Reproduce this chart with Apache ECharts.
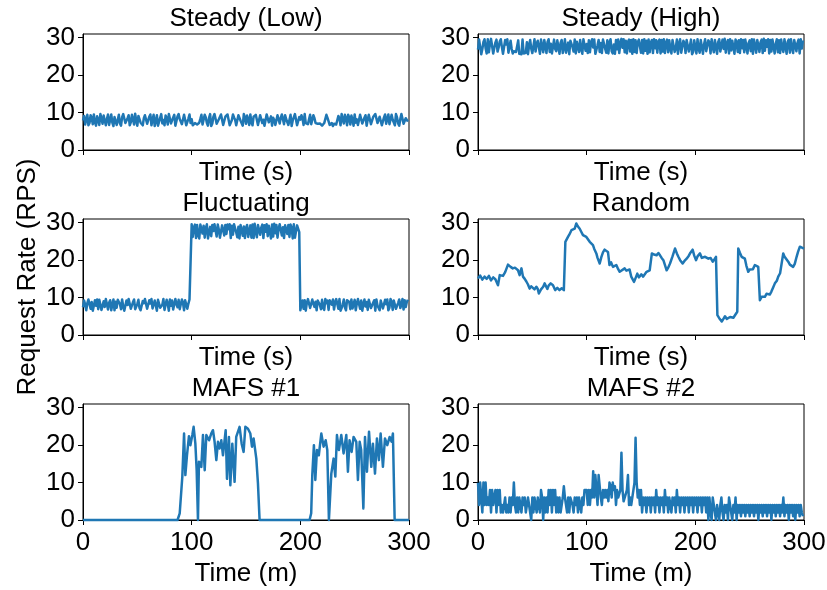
<!DOCTYPE html>
<html><head><meta charset="utf-8">
<script src="https://cdn.jsdelivr.net/npm/echarts@6/dist/echarts.min.js"></script>
<style>html,body{margin:0;padding:0;background:#fff}#c{width:827px;height:590px}</style>
</head><body><div id="c"></div>
<script>
// ---------- data ----------
const panelTitles = ['Steady (Low)', 'Steady (High)', 'Fluctuating', 'Random', 'MAFS #1', 'MAFS #2'];
const xAxisNames = ['Time (s)', 'Time (s)', 'Time (s)', 'Time (s)', 'Time (m)', 'Time (m)'];
const yAxisName = 'Request Rate (RPS)';
const xTickValues = [0, 100, 200, 300];
const yTickValues = [0, 10, 20, 30];
const sampleStep = 1; // time between samples of the evenly sampled traces

const steadyLow = [
7.9,9.1,6.8,8.2,9.4,6.6,7.2,9.3,8.6,6.9,9.5,7.4,6.5,9.0,8.1,6.7,9.6,8.4,7.0,9.2,9.2,6.6,8.3,9.5,6.7,8.0,9.5,7.3,6.4,8.8,
9.1,6.7,8.0,9.4,7.1,6.5,8.8,9.6,9.6,7.2,6.9,8.5,9.3,6.6,7.4,9.4,8.2,6.8,9.7,7.9,6.5,9.1,9.4,7.3,7.0,6.6,8.5,9.3,9.6,7.0,
7.2,8.9,9.5,6.6,8.1,9.4,6.4,7.8,9.3,6.5,6.9,8.6,9.6,7.1,8.0,6.6,9.2,8.5,6.8,9.6,9.5,7.1,7.3,8.7,9.4,6.5,6.5,9.0,9.6,8.3,
8.4,6.9,7.0,9.4,9.1,6.6,6.9,8.4,9.5,7.2,8.2,6.6,7.1,7.2,7.0,6.8,6.9,7.3,8.3,9.4,6.8,7.0,9.4,8.7,7.2,6.5,8.6,9.6,6.4,7.1,
8.9,9.6,9.5,7.0,6.9,8.2,8.0,9.5,9.6,6.7,7.1,8.9,8.4,9.5,9.3,6.6,6.8,8.0,9.5,8.7,8.1,6.6,6.9,9.3,9.4,7.8,8.3,6.5,9.6,8.8,
7.0,9.2,8.2,6.7,9.5,7.4,6.6,8.9,8.4,9.4,9.2,6.7,7.0,9.3,9.6,7.2,8.1,6.5,6.8,9.5,9.4,7.4,7.2,9.0,6.5,8.6,8.0,6.7,6.9,9.3,
9.5,7.1,8.6,9.5,9.4,6.9,9.3,8.2,8.0,6.7,6.8,9.4,6.4,7.9,8.3,9.6,9.5,6.6,7.0,8.8,8.1,9.3,8.4,6.7,9.6,7.2,7.1,6.9,8.2,9.4,
6.9,7.2,9.3,8.5,7.2,6.9,7.0,7.1,7.1,6.8,6.5,7.0,7.2,6.9,9.4,8.6,8.3,6.7,6.9,7.2,6.4,7.0,7.0,6.8,7.3,9.1,8.4,6.6,9.6,8.2,
7.1,9.4,8.5,6.6,9.4,8.7,6.8,9.2,8.0,6.5,9.5,7.3,8.2,6.7,6.5,9.4,9.6,7.1,7.0,8.6,9.3,6.5,8.1,9.4,9.5,6.9,6.9,8.8,8.3,9.6,
9.6,7.2,7.0,8.9,9.4,6.6,6.6,8.7,9.5,7.0,8.2,9.5,6.9,7.4,9.4,8.1,8.0,6.6,9.6,8.7,7.1,6.5,8.3,9.6,9.5,7.0,6.9,8.5,8.4,7.6];

const steadyHigh = [
26.8,29.5,29.2,25.6,27.0,28.9,29.6,27.2,25.8,29.6,26.1,28.4,29.7,29.3,25.8,25.9,28.7,29.5,26.3,27.4,29.0,29.6,27.5,25.7,26.0,29.4,28.2,29.6,26.0,25.7,
29.2,27.0,25.8,26.4,25.9,26.2,25.8,29.3,25.7,26.2,25.6,29.5,25.8,26.1,26.0,28.8,25.6,27.9,29.4,27.1,25.9,25.7,29.6,26.3,28.5,29.2,29.7,25.7,29.5,27.8,
26.1,29.4,29.6,25.9,28.9,29.6,26.2,28.4,25.8,25.7,29.5,27.0,26.4,29.3,29.5,25.7,28.6,29.4,25.9,27.3,29.6,26.0,25.8,28.7,25.6,29.2,29.7,27.5,26.3,29.5,
25.8,28.9,29.4,26.2,29.4,27.0,25.7,29.6,29.3,26.5,28.3,25.9,29.3,26.1,28.8,29.6,27.4,29.5,25.7,26.0,28.0,29.4,26.2,28.6,25.9,29.5,29.7,27.1,26.0,29.3,
25.8,28.7,29.6,26.4,25.8,28.2,25.7,29.4,26.9,29.5,25.9,28.5,29.7,27.3,29.6,26.1,29.2,25.8,28.9,29.5,26.3,29.4,25.7,29.6,26.2,29.3,25.9,28.8,29.5,29.7,
26.0,29.4,25.8,29.6,26.5,29.2,25.7,29.5,26.1,28.7,29.4,25.9,29.6,27.2,29.3,26.0,28.9,29.5,25.8,29.4,26.3,29.6,25.9,28.6,29.5,26.1,29.3,27.0,25.8,29.4,
29.6,26.2,27.3,29.5,25.7,28.4,29.6,26.0,25.8,29.2,28.6,25.9,29.4,29.7,26.3,27.8,29.5,25.6,26.2,29.3,28.9,25.8,29.6,27.1,26.0,29.4,29.5,25.7,28.2,29.6,
26.4,25.9,29.3,28.7,25.8,29.6,27.5,26.1,29.4,29.2,25.7,28.8,29.6,26.3,25.9,29.5,27.0,29.7,26.0,28.5,29.4,25.8,29.6,26.6,29.2,27.4,25.7,29.5,28.9,26.2,
29.3,25.9,29.6,27.2,29.4,26.1,29.5,29.7,25.8,28.6,29.3,26.4,29.6,25.7,29.5,27.9,26.0,29.4,29.6,26.2,28.8,29.5,25.9,29.7,26.5,29.3,27.6,29.6,25.8,29.4,
26.3,29.5,29.7,25.8,28.4,29.6,26.1,29.3,25.9,29.5,27.4,26.2,29.6,29.4,25.7,28.9,29.5,26.0,29.6,27.3,25.9,29.4,29.7,26.4,28.6,29.5,25.8,29.6,27.1,29.3];

const fluctuating = [
// low phase
7.4,9.2,8.1,6.6,8.5,9.5,9.4,7.0,8.8,6.5,6.8,9.3,7.8,9.5,6.9,9.4,8.1,6.7,7.2,9.0,7.5,9.6,9.2,6.8,8.6,9.3,6.6,7.1,9.5,6.6,
8.9,7.3,9.4,9.5,8.2,6.9,9.5,7.6,6.5,6.7,9.2,8.0,9.6,9.4,7.0,6.7,8.8,9.5,6.9,7.2,8.3,9.4,7.2,6.6,6.5,9.1,8.5,9.6,9.3,7.0,
6.8,9.3,8.4,9.6,7.1,6.6,9.2,8.7,6.5,9.4,9.5,7.3,6.9,8.1,9.6,6.7,7.0,9.4,8.3,6.5,9.5,7.8,9.2,6.8,6.6,9.6,8.2,7.4,9.4,6.9,
7.1,9.5,8.6,6.6,9.3,9.6,7.0,8.4,9.5,9.8,
// high phase
29.6,26.2,28.8,29.5,25.9,29.4,26.7,25.8,29.5,29.7,27.1,29.2,26.0,28.5,29.6,25.8,26.3,28.9,26.4,29.4,27.8,29.6,29.3,26.3,29.5,28.2,26.0,25.8,29.3,29.6,
26.6,29.4,27.0,29.5,28.3,29.6,25.9,29.2,26.8,29.6,29.5,27.4,26.1,28.9,25.8,29.4,29.7,26.5,29.0,25.9,28.6,29.4,26.2,25.8,29.3,26.0,29.5,25.9,29.7,27.5,
26.1,29.4,29.6,26.8,28.7,29.5,25.9,29.3,27.6,29.6,26.4,29.2,28.9,25.8,29.5,26.3,29.7,27.2,29.4,26.0,28.4,29.6,29.5,26.6,28.8,25.9,29.3,29.6,27.0,29.4,
26.2,29.5,28.6,25.8,29.6,26.0,25.9,29.3,29.7,27.5,
// low phase
6.6,8.1,9.2,7.0,9.3,6.5,8.6,9.6,9.4,7.2,6.8,9.5,8.3,7.5,8.9,6.6,9.2,9.5,8.0,6.9,9.4,7.3,6.7,9.6,8.5,9.2,6.7,9.3,9.0,8.1,
9.5,6.8,8.7,9.6,9.4,7.0,9.6,6.5,7.2,8.2,9.5,7.4,6.6,9.3,9.1,8.8,6.9,9.5,7.1,6.7,9.4,6.6,8.4,9.6,9.5,7.0,9.2,6.5,8.3,9.5,
7.6,8.8,6.7,9.4,9.6,7.2,6.9,8.6,9.3,6.5,9.5,7.9,8.4,6.6,9.2,9.6,7.1,6.8,9.4,8.2,9.5,6.6,7.3,9.6,8.9,6.7,9.2,9.4,7.0,6.5,
8.6,9.5,7.2,8.0,9.6,6.8,9.3,7.5,8.8,9.4];

// [time, rate] pairs for the irregularly read traces
const randomTrace = [
[0,15.1],[2,15.9],[4,14.8],[6,15.6],[8,15.0],[10,15.8],[12,14.6],[14,15.4],[16,14.9],[18.4,13.3],[20,16.0],[23,15.8],[25,16.8],[27.6,18.8],[30,18.2],
[32,17.8],[34,18.0],[36.8,17.3],[38.3,16.0],[40,17.8],[41.4,15.6],[43,15.0],[44.5,14.3],[46,13.5],[47.5,12.4],[49,13.0],[50.6,12.9],[52,12.2],[53.7,12.9],
[55,12.3],[56,11.1],[58,12.2],[60,12.9],[61.3,13.8],[63.8,12.3],[65,13.2],[66.9,13.8],[69,13.3],[71,12.0],[73,12.6],[75,12.0],[77,12.5],[79,12.0],
[80.4,24.9],[82.8,26.2],[84,26.8],[86,28.0],[89,28.4],[90.5,29.8],[92,29.0],[93.6,28.4],[95,27.6],[96.6,26.7],[98,27.2],[99.7,26.2],[101,25.8],[102.8,24.9],
[104,25.2],[105.8,24.0],[107,23.0],[108.9,21.8],[110,20.6],[112,19.1],[113.5,20.8],[115,22.1],[116.5,22.8],[118,22.9],[119.6,22.2],[121,18.7],[122.5,19.4],
[124.2,18.2],[126,18.5],[127.3,18.7],[129,17.6],[130.4,16.9],[132,17.4],[135,17.8],[136.5,17.2],[138,16.9],[139.5,17.5],[141,15.6],[143.6,14.2],[145,15.2],
[146.6,16.4],[148,15.4],[150.3,16.2],[152,15.6],[155.1,16.9],[158,17.3],[159,17.6],[160,21.8],[162,21.5],[164.4,21.3],[166,21.9],[167.5,21.3],[169,20.6],
[170.6,20.0],[173.6,17.3],[175,18.0],[176.7,19.1],[179,21.0],[181.3,23.1],[183,21.8],[184.4,20.9],[186,20.0],[188.3,19.1],[190,19.8],[192,20.4],[194,21.2],
[195.5,22.0],[197.5,22.8],[199,21.2],[200.6,20.0],[202,21.0],[204.3,21.8],[206,20.6],[207.3,20.4],[209,20.9],[212,20.4],[214,20.6],[216,19.6],[217.5,20.2],
[219,20.9],[220.3,5.3],[222,4.5],[224.3,3.6],[226,4.4],[227.3,5.0],[229,4.3],[230.4,4.1],[232,4.8],[233.5,5.3],[235,4.6],[236.5,4.1],[238.6,6.2],[239.5,23.1],
[241,22.0],[242.6,20.9],[244,21.2],[245.6,20.4],[247,18.5],[248.7,16.9],[250,17.5],[251.8,17.8],[253,17.6],[254.8,18.7],[256.5,18.7],[257.9,18.2],[259.4,9.3],
[261,10.2],[262.5,10.7],[264,10.2],[265.5,11.0],[267,11.1],[268.5,10.8],[270,11.6],[271.5,12.6],[273.2,13.8],[275,14.5],[276.3,15.6],[278,16.5],[280.9,21.8],
[282,21.0],[283.5,20.4],[285.5,19.6],[287,18.8],[288.5,18.4],[290,18.2],[291.5,19.0],[293.2,20.9],[294.5,22.2],[296.2,23.6],[298,23.4],[300,23.1]];

const mafs1Trace = [
[0,0],[87,0],[89,1.8],[91.4,11.6],[93,23.1],[94.2,12],[95.7,17.3],[97.5,22.4],[98.8,20],[100.6,22.7],[101.8,24.9],[103.4,20.4],[104.6,13.3],[105.8,0],
[106.7,15.6],[108.9,14.2],[110.4,22.7],[112,13.3],[113.5,22.7],[116,21.3],[118,23.1],[119.6,24],[121.1,20.9],[122.7,16],[124.2,20.9],[125.7,19.1],[127.3,21.3],
[128.8,17.3],[131.3,24],[132.5,11],[134.3,22.2],[135.6,9.3],[137.4,20.4],[139.5,10.2],[141,22.2],[142.6,22.2],[144.1,24.9],[146,20.4],[147.8,18.2],[149.4,24.9],
[151.8,24.4],[154,23.1],[155.5,19.6],[157,21.8],[159.5,16.4],[161,9.8],[162.5,0],[208.5,0],[210,1.8],[211,12],[212.5,20],[213.8,10.7],[215.3,18.7],[217,17.3],
[219.3,23.1],[221.4,19.6],[223.3,21.3],[224.8,18.7],[226.3,0],[228.5,12.4],[230.6,16.4],[232.2,11.6],[233.7,22.7],[235.5,18.7],[237.7,22.7],[239.8,17.8],
[242.3,22.7],[243.8,12.9],[245.3,21.3],[247.2,18.2],[249,22.2],[251.5,20.9],[253,10.7],[254.6,20.9],[256,18.7],[258,3.1],[259.5,22.2],[261.3,12.9],[263.2,23.6],
[265.3,14.2],[266.8,20.4],[268.7,12.4],[270.5,21.8],[272.3,16],[273.9,23.1],[276,14.2],[277.9,21.8],[280,20],[282.2,22.2],[284,20.9],[285.2,23.1],[286.8,0],[300,0]];

const mafs2 = [
10,4,10,6,2,10,4,10,4,6, 4,8,2,8,4,6,8,2,8,4, 8,2,4,2,4,6,2,4,2,6,
2,6,4,10,4,2,6,2,6,4, 2,6,4,6,2,4,6,6,2,0, 6,2,6,4,2,6,6,2,8,6,
0,6,2,6,2,8,4,8,2,8, 4,8,2,6,2,6,2,4,6,9, 6,4,2,6,2,6,6,4,2,6,
4,6,2,6,4,2,6,4,8,8, 8,4,8,4,8,6,13,6,12,12, 4,12,12,6,4,8,6,8,6,8,
5,10,9,6,10,8,9,4,8,6, 6,8,18,8,5,6,6,8,12,4, 6,4,6,8,10,22,10,6,8,4,
8,2,6,4,6,2,6,4,6,2, 6,4,6,2,8,4,6,2,6,4, 6,2,8,4,6,2,6,4,2,6,
4,6,2,8,4,6,2,6,4,6, 2,6,4,6,2,6,4,6,2,6, 4,6,2,6,4,6,2,6,4,6,
2,6,0,6,2,0,6,4,2,0, 4,2,0,4,6,2,0,4,2,4, 0,6,4,2,0,4,2,6,0,4,
2,4,1,4,2,4,1,4,2,4, 1,4,2,4,1,4,2,4,0,4, 2,4,1,4,2,4,1,4,2,4,
0,4,2,4,1,4,2,4,1,4, 2,6,1,4,2,4,0,4,2,4, 1,4,0,4,2,4,1,4,2,1];

// ---------- layout / style ----------
const FONT = '"Liberation Sans", Arial, Helvetica, sans-serif';
const FS = 26;
const BLUE = '#1f77b4';
const colLeft = [83, 478];
const rowTop = [34, 219, 404];
const PW = 326, PH = 116;

const even = arr => arr.map((v, k) => [k * sampleStep, v]);
const panelData = [even(steadyLow), even(steadyHigh), even(fluctuating), randomTrace, mafs1Trace, even(mafs2)];

const grids = [], xAxes = [], yAxes = [], series = [], graphics = [];
for (let i = 0; i < 6; i++) {
  const r = Math.floor(i / 2), c = i % 2;
  const bottom = r === 2;
  grids.push({left: colLeft[c], top: rowTop[r], width: PW, height: PH, show: true,
    borderColor: '#000', borderWidth: 1, backgroundColor: 'transparent', outerBoundsMode: 'none'});
  xAxes.push({type: 'value', gridIndex: i, min: 0, max: 300, interval: 100,
    axisLine: {show: true, onZero: false, lineStyle: {color: '#000', width: 1}},
    axisTick: {show: true, length: 5, inside: false, lineStyle: {color: '#000', width: 1}, customValues: xTickValues},
    axisLabel: {show: bottom, customValues: xTickValues, margin: 10, color: '#000', fontSize: FS, fontFamily: FONT},
    splitLine: {show: false},
    name: xAxisNames[i], nameLocation: 'middle', nameGap: bottom ? 41 : 10,
    nameTextStyle: {color: '#000', fontSize: FS, fontFamily: FONT}});
  yAxes.push({type: 'value', gridIndex: i, min: 0, max: 31,
    axisLine: {show: true, lineStyle: {color: '#000', width: 1}},
    axisTick: {show: true, length: 5, inside: false, lineStyle: {color: '#000', width: 1}, customValues: yTickValues},
    axisLabel: {show: true, customValues: yTickValues, margin: 8, color: '#000', fontSize: FS, fontFamily: FONT},
    splitLine: {show: false}});
  series.push({type: 'line', xAxisIndex: i, yAxisIndex: i, data: panelData[i], showSymbol: false,
    symbol: 'none', clip: false, lineStyle: {color: BLUE, width: 2.5, join: 'round'}, itemStyle: {color: BLUE}, silent: true});
  graphics.push({type: 'text', x: colLeft[c] + PW / 2, y: rowTop[r] - 2,
    style: {text: panelTitles[i], fill: '#000', fontSize: FS, fontFamily: FONT,
      align: 'center', verticalAlign: 'bottom', textAlign: 'center', textVerticalAlign: 'bottom'}});
}
graphics.push({type: 'text', x: 28, y: (rowTop[0] + rowTop[2] + PH) / 2, rotation: Math.PI / 2,
  style: {text: yAxisName, fill: '#000', fontSize: FS, fontFamily: FONT,
    align: 'center', verticalAlign: 'middle', textAlign: 'center', textVerticalAlign: 'middle'}});

const chart = echarts.init(document.getElementById('c'), null, {renderer: 'canvas'});
chart.setOption({animation: false, backgroundColor: '#fff', grid: grids, xAxis: xAxes, yAxis: yAxes,
  series: series, graphic: graphics});
</script></body></html>
